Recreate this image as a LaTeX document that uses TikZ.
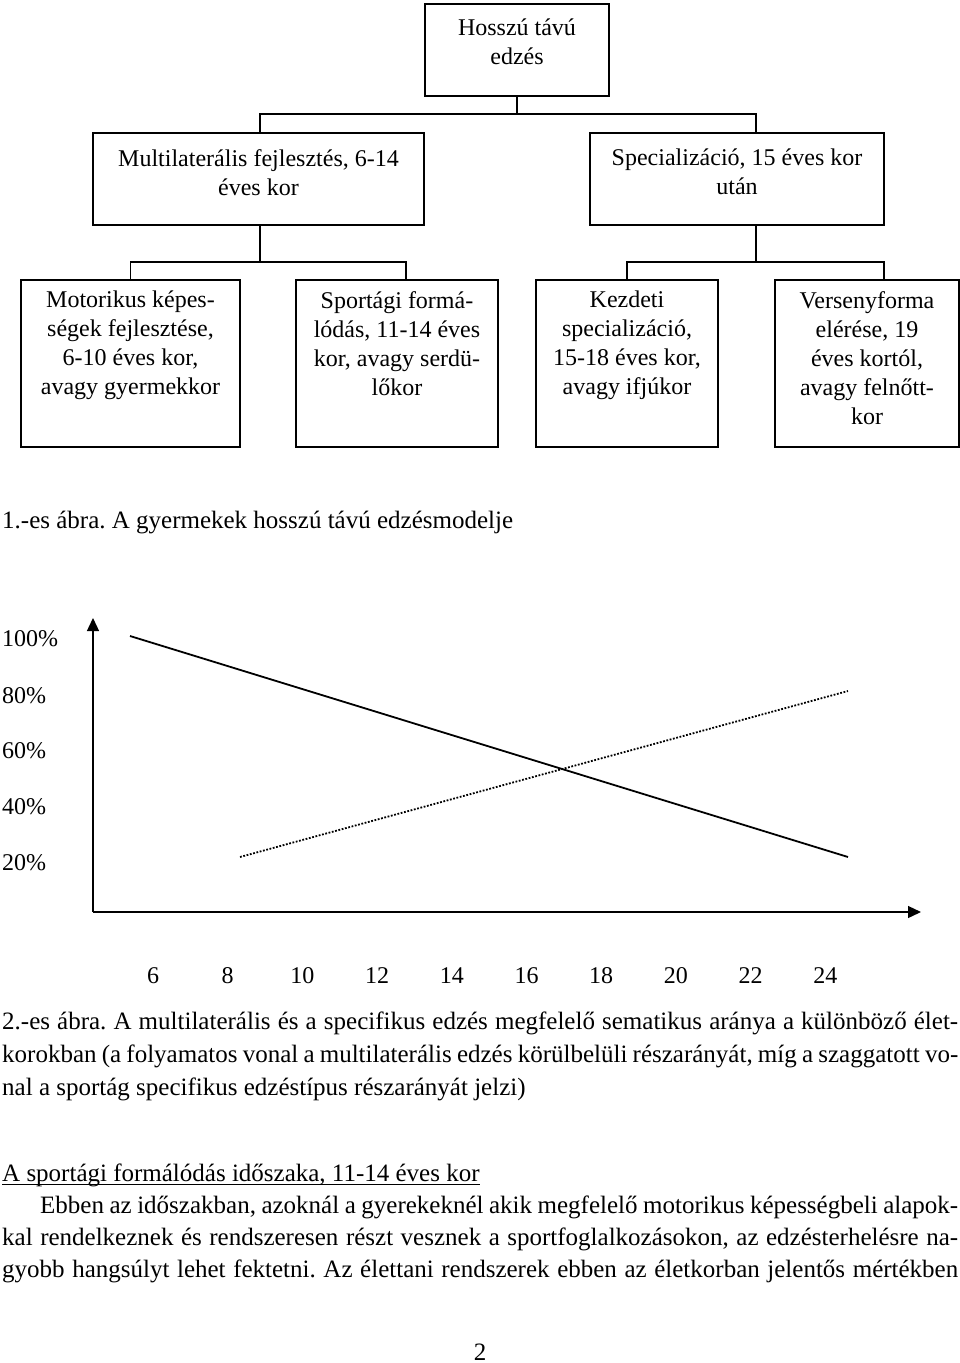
\documentclass[tikz,border=0pt]{standalone}
\usepackage{fontspec}
\setmainfont{Liberation Serif}
\usetikzlibrary{arrows.meta}
\frenchspacing
\begin{document}
\begin{tikzpicture}[x=1pt,y=-1pt,
  box/.style={draw,line width=1.4pt,inner sep=0pt,outer sep=0pt},
  conn/.style={line width=1.4pt},
  txt/.style={font=\fontsize{24}{29}\selectfont,align=center,inner sep=0pt,anchor=north},
  lbl/.style={font=\fontsize{24}{29}\selectfont,inner sep=0pt},
  blbl/.style={font=\fontsize{25}{29}\selectfont,inner sep=0pt},
  body/.style={font=\fontsize{25}{33}\selectfont,inner sep=0pt,align=justify,text width=956pt,anchor=north west},
  axis/.style={line width=1.3pt,-{Triangle[width=12pt,length=13pt]}}]
\useasboundingbox (0,0) rectangle (960,1363);
% boxes
\node[box,minimum width=184pt,minimum height=92pt] (b0) at (517,50) {};
\node[box,minimum width=331pt,minimum height=92pt] (b1) at (258.5,179) {};
\node[box,minimum width=294pt,minimum height=92pt] (b2) at (737,179) {};
\node[box,minimum width=219pt,minimum height=167pt] (b11) at (130.5,363.5) {};
\node[box,minimum width=202pt,minimum height=167pt] (b12) at (397,363.5) {};
\node[box,minimum width=182pt,minimum height=167pt] (b21) at (627,363.5) {};
\node[box,minimum width=184pt,minimum height=167pt] (b22) at (867,363.5) {};
% texts
\node[txt] (t0) at (517,18.5) {Hosszú távú\\edzés};
\node[txt] (t1) at (258.5,149) {Multilaterális fejlesztés, 6-14\\éves kor};
\node[txt] (t2) at (737,149) {Specializáció, 15 éves kor\\után};
\node[txt] (t11) at (130.5,291) {Motorikus képes-\\ségek fejlesztése,\\6-10 éves kor,\\avagy gyermekkor};
\node[txt] (t12) at (397,291) {Sportági formá-\\lódás, 11-14 éves\\kor, avagy serdü-\\lőkor};
\node[txt] (t21) at (627,291) {Kezdeti\\specializáció,\\15-18 éves kor,\\avagy ifjúkor};
\node[txt] (t22) at (867,291) {Versenyforma\\elérése, 19\\éves kortól,\\avagy felnőtt-\\kor};
% connectors
\coordinate (j0) at (517,114);
\coordinate (j1) at (260,262);
\coordinate (j2) at (756,262);
\draw[conn] (b0.south) -- (j0);
\draw[conn] ([xshift=1.5pt]b1.north) |- (j0) -| ([xshift=19pt]b2.north);
\draw[conn] ([xshift=1.5pt]b1.south) -- (j1);
\draw[conn] (b11.north) |- (j1) -| ([xshift=9pt]b12.north);
\draw[conn] ([xshift=19pt]b2.south) -- (j2);
\draw[conn] (b21.north) |- (j2) -| ([xshift=17pt]b22.north);
% caption 1
\node[blbl,anchor=base west] (cap1) at (2,528) {1.-es ábra. A gyermekek hosszú távú edzésmodelje};
% chart
\coordinate (o) at (93,912);
\coordinate (ytop) at (93,618);
\coordinate (xend) at (921,912);
\draw[axis] (o) -- (ytop);
\draw[axis] (o) -- (xend);
\coordinate (s1) at (130,636);
\coordinate (s2) at (848,857);
\coordinate (d1) at (240,857);
\coordinate (d2) at (848,691);
\draw[line width=1.8pt] (s1) -- (s2);
\draw[line width=1.8pt,dash pattern=on 1.8pt off 1.6pt] (d1) -- (d2);
\foreach \v/\yy in {100/646,80/703,60/758,40/814,20/870}
  \node[lbl,anchor=base west] (y\v) at (2,\yy) {\v\%};
\foreach \v [count=\i from 0] in {6,8,10,12,14,16,18,20,22,24}
  \node[lbl,anchor=base] (x\v) at ({153+74.7*\i},983) {\v};
% caption 2
\node[body] (cap2) at (2,1011.5) {\pretolerance=10000\tolerance=10000 2.-es ábra. A multilaterális és a specifikus edzés megfelelő sematikus aránya a különböző élet-\linebreak korokban (a folyamatos vonal a multilaterális edzés körülbelüli részarányát, míg a szaggatott vo-\linebreak nal a sportág specifikus edzéstípus részarányát jelzi)};
% heading
\node[blbl,anchor=base west] (head) at (2,1181) {A sportági formálódás időszaka, 11-14 éves kor};
\draw[line width=1pt] ([yshift=-3pt]head.base west) -- ([yshift=-3pt]head.base east);
% paragraph
\node[body,font=\fontsize{25}{32}\selectfont] (par) at (2,1196) {\pretolerance=10000\tolerance=10000\hspace*{38pt}Ebben az időszakban, azoknál a gyerekeknél akik megfelelő motorikus képességbeli alapok-\linebreak kal rendelkeznek és rendszeresen részt vesznek a sportfoglalkozásokon, az edzésterhelésre na-\linebreak gyobb hangsúlyt lehet fektetni. Az élettani rendszerek ebben az életkorban jelentős mértékben\parfillskip=0pt\par};
% page number
\node[blbl,anchor=base] (pg) at (480,1360) {2};
\end{tikzpicture}
\end{document}
